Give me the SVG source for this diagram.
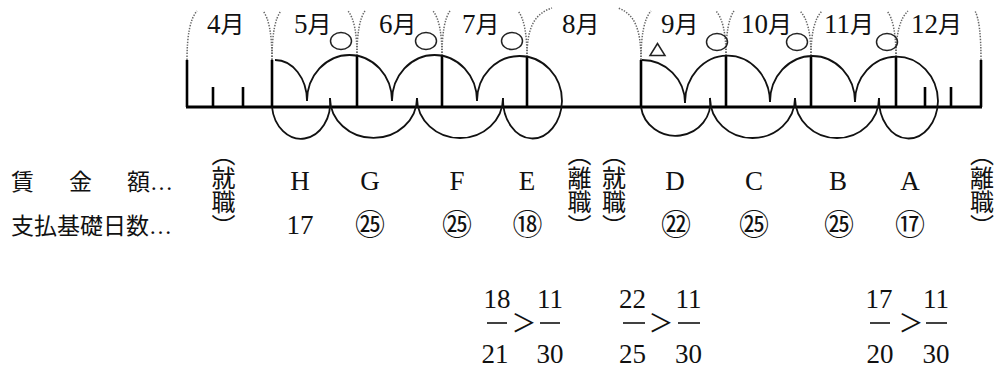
<svg xmlns="http://www.w3.org/2000/svg" width="998" height="369" viewBox="0 0 998 369">
<style>
.lat{font-family:"Liberation Serif",serif;fill:#111}
.cjk{font-family:"Noto Sans CJK JP",sans-serif;fill:#111}
.mon{font-size:27px}
.mj{font-size:24px}
.lab{font-size:23px}
.let{font-size:27px;text-anchor:middle}
.cir{font-size:30px;text-anchor:middle}
.vt{font-size:24px;writing-mode:vertical-rl}
.frac{font-size:27px;text-anchor:middle}
.gt{font-size:25px;text-anchor:middle}
.dot{fill:none;stroke:#666;stroke-width:1.5;stroke-dasharray:1.4 1.4}
.tick{stroke:#000;stroke-width:2.6}
.axis{stroke:#000;stroke-width:3}
.arc{fill:none;stroke:#111;stroke-width:1.8}
.mark{fill:none;stroke:#222;stroke-width:1.5}
.bar{stroke:#111;stroke-width:1.6}
</style>

<g id="timeline">
<line class="axis" x1="186" y1="107" x2="982" y2="107"/>
<line class="tick" x1="187" y1="60" x2="187" y2="107"/>
<line class="tick" x1="272" y1="60" x2="272" y2="107"/>
<line class="tick" x1="357" y1="56" x2="357" y2="107"/>
<line class="tick" x1="442" y1="56" x2="442" y2="107"/>
<line class="tick" x1="527" y1="57" x2="527" y2="107"/>
<line class="tick" x1="641" y1="60" x2="641" y2="107"/>
<line class="tick" x1="726" y1="56" x2="726" y2="107"/>
<line class="tick" x1="811" y1="56" x2="811" y2="107"/>
<line class="tick" x1="896" y1="57" x2="896" y2="107"/>
<line class="tick" x1="981" y1="60" x2="981" y2="107"/>
<line class="tick" x1="213" y1="87" x2="213" y2="107"/>
<line class="tick" x1="243" y1="87" x2="243" y2="107"/>
<line class="tick" x1="925" y1="87" x2="925" y2="107"/>
<line class="tick" x1="951" y1="87" x2="951" y2="107"/>
</g>

<g id="month-brackets">
<path class="dot" d="M187 60 Q187 22 197 11"/>
<path class="dot" d="M272 60 Q272 22 263 11"/>
<path class="dot" d="M272 60 Q272 22 281 11"/>
<path class="dot" d="M357 56 Q357 22 348 11"/>
<path class="dot" d="M357 56 Q357 22 365 11"/>
<path class="dot" d="M442 56 Q442 22 433 11"/>
<path class="dot" d="M442 56 Q442 22 450 11"/>
<path class="dot" d="M527 57 Q527 22 518 11"/>
<path class="dot" d="M527 57 C527 30 533 14 552 8"/>
<path class="dot" d="M641 60 C641 30 635 14 618 8"/>
<path class="dot" d="M641 60 Q641 22 651 11"/>
<path class="dot" d="M726 56 Q726 22 716 11"/>
<path class="dot" d="M726 56 Q726 22 734 11"/>
<path class="dot" d="M811 56 Q811 22 800 11"/>
<path class="dot" d="M811 56 Q811 22 822 11"/>
<path class="dot" d="M896 57 Q896 22 887 11"/>
<path class="dot" d="M896 57 Q896 22 908 11"/>
<path class="dot" d="M981 60 Q981 22 975 11"/>
</g>

<g id="months">
<text class="lat mon" x="207" y="33">4<tspan class="cjk mj">月</tspan></text>
<text class="lat mon" x="294" y="33">5<tspan class="cjk mj">月</tspan></text>
<text class="lat mon" x="379" y="33">6<tspan class="cjk mj">月</tspan></text>
<text class="lat mon" x="462" y="33">7<tspan class="cjk mj">月</tspan></text>
<text class="lat mon" x="562" y="33">8<tspan class="cjk mj">月</tspan></text>
<text class="lat mon" x="661" y="33">9<tspan class="cjk mj">月</tspan></text>
<text class="lat mon" x="741" y="33">10<tspan class="cjk mj">月</tspan></text>
<text class="lat mon" x="824" y="33">11<tspan class="cjk mj">月</tspan></text>
<text class="lat mon" x="911" y="33">12<tspan class="cjk mj">月</tspan></text>
</g>

<g id="marks">
<ellipse class="mark" cx="341" cy="41" rx="10.5" ry="8.5"/>
<ellipse class="mark" cx="426" cy="41" rx="10.5" ry="8.5"/>
<ellipse class="mark" cx="512" cy="41" rx="10.5" ry="8.5"/>
<ellipse class="mark" cx="717" cy="42" rx="10.5" ry="8.5"/>
<ellipse class="mark" cx="797" cy="42" rx="10.5" ry="8.5"/>
<ellipse class="mark" cx="887" cy="42" rx="10.5" ry="8.5"/>
<polygon class="mark" points="657.5,43.5 650,55.5 665,55.5" stroke-width="1.2"/>
</g>

<g id="connectors">
<path class="arc" d="M275 60 A32 41 0 0 1 307 101"/>
<path class="arc" d="M307 101 A42.5 46 0 0 1 392 101"/>
<path class="arc" d="M392 101 A42.5 46 0 0 1 477 101"/>
<path class="arc" d="M477 101 A42.5 45 0 0 1 562 101"/>
<path class="arc" d="M272 107 A29 36 0 0 0 330 98"/>
<path class="arc" d="M330 98 A43.5 40 0 0 0 417 98"/>
<path class="arc" d="M417 98 A43 40 0 0 0 503 98"/>
<path class="arc" d="M503 98 A29.5 39 0 0 0 562 101"/>
<path class="arc" d="M642 60 A43 43 0 0 1 685 103"/>
<path class="arc" d="M685 103 A42.5 47 0 0 1 770 102"/>
<path class="arc" d="M770 102 A42.5 46 0 0 1 855 102"/>
<path class="arc" d="M855 102 A41.5 45 0 0 1 938 101"/>
<path class="arc" d="M641 107 A34.5 33 0 0 0 710 98"/>
<path class="arc" d="M710 98 A42.5 40 0 0 0 795 98"/>
<path class="arc" d="M795 98 A42 40 0 0 0 879 98"/>
<path class="arc" d="M879 98 A29.5 39 0 0 0 938 101"/>
</g>

<g id="row-labels">
<text class="cjk lab" x="11 69 127" y="190">賃金額<tspan class="lat" x="150">…</tspan></text>
<text class="cjk lab" x="11" y="234">支払基礎日数<tspan class="lat">…</tspan></text>
</g>

<g id="events">
<text class="cjk vt" x="223.5" y="142">（就職）</text>
<text class="cjk vt" x="579.5" y="142">（離職）</text>
<text class="cjk vt" x="614" y="142">（就職）</text>
<text class="cjk vt" x="982" y="142">（離職）</text>
</g>

<g id="wages">
<text class="lat let" x="300" y="190">H</text>
<text class="lat let" x="370" y="190">G</text>
<text class="lat let" x="457" y="190">F</text>
<text class="lat let" x="527" y="190">E</text>
<text class="lat let" x="675" y="190">D</text>
<text class="lat let" x="754" y="190">C</text>
<text class="lat let" x="838" y="190">B</text>
<text class="lat let" x="910" y="190">A</text>
</g>

<g id="days">
<text class="lat let" x="300" y="234">17</text>
<text class="cjk cir" x="370" y="235">㉕</text>
<text class="cjk cir" x="457" y="235">㉕</text>
<text class="cjk cir" x="527.5" y="235">⑱</text>
<text class="cjk cir" x="676" y="235">㉒</text>
<text class="cjk cir" x="754" y="235">㉕</text>
<text class="cjk cir" x="839" y="235">㉕</text>
<text class="cjk cir" x="910" y="235">⑰</text>
</g>

<g id="fraction-1">
<text class="lat frac" x="497" y="308">18</text>
<line class="bar" x1="487" y1="323" x2="507" y2="323"/>
<text class="lat frac" x="495" y="363">21</text>
<text class="cjk gt" x="524" y="332">＞</text>
<text class="lat frac" x="550" y="308">11</text>
<line class="bar" x1="540" y1="323" x2="560" y2="323"/>
<text class="lat frac" x="550" y="363">30</text>
</g>

<g id="fraction-2">
<text class="lat frac" x="632.5" y="308">22</text>
<line class="bar" x1="623" y1="323" x2="645" y2="323"/>
<text class="lat frac" x="632.5" y="363">25</text>
<text class="cjk gt" x="661" y="332">＞</text>
<text class="lat frac" x="688.5" y="308">11</text>
<line class="bar" x1="678" y1="323" x2="700" y2="323"/>
<text class="lat frac" x="688.5" y="363">30</text>
</g>

<g id="fraction-3">
<text class="lat frac" x="879" y="308">17</text>
<line class="bar" x1="870" y1="323" x2="890" y2="323"/>
<text class="lat frac" x="880" y="363">20</text>
<text class="cjk gt" x="911" y="332">＞</text>
<text class="lat frac" x="936" y="308">11</text>
<line class="bar" x1="926" y1="323" x2="947" y2="323"/>
<text class="lat frac" x="936" y="363">30</text>
</g>
</svg>
